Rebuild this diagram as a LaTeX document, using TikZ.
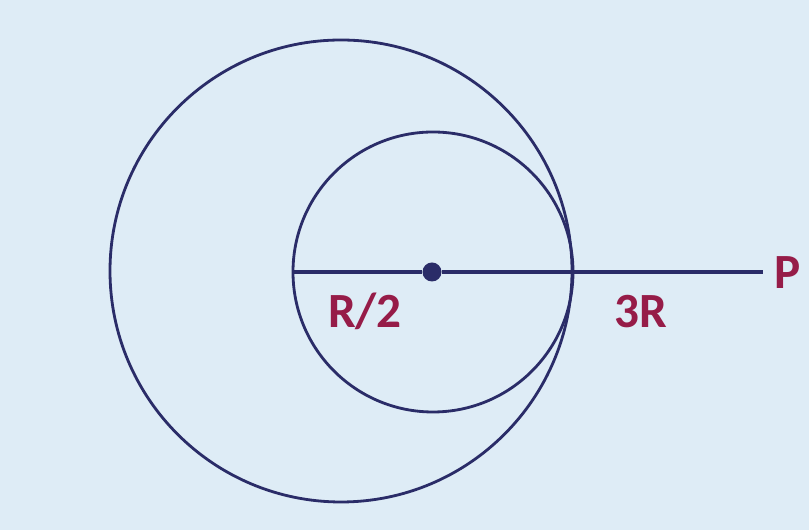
\documentclass[tikz,border=0pt]{standalone}
\usepackage{fontspec}
\setmainfont{Carlito}
\usepackage{tikz}
\usetikzlibrary{arrows.meta,positioning,calc}
\definecolor{navy}{RGB}{42,44,104}
\definecolor{plum}{RGB}{150,28,72}
\definecolor{paper}{RGB}{222,236,246}

\begin{document}
\begin{tikzpicture}[x=0.02cm, y=0.02cm, >=Latex]
  \fill[paper] (0,0) rectangle (809,530);
  \useasboundingbox (0,0) rectangle (809,530);

  % outer and inner circles
  \draw[navy, line width=1.6pt] (341,259) circle (231);
  \draw[navy, line width=1.6pt] (433,258) circle (140);

  % centre and line to P
  \coordinate (left) at (293,258);
  \coordinate (tip) at (763,258);
  \node[circle, fill=navy, inner sep=0pt, minimum size=0.38cm] (ctr) at (432,258) {};
  \node[plum, font=\fontsize{28}{30}\selectfont\bfseries] (P) at (788,257) {P};
  \draw[navy, line width=2pt] (left) -- (ctr) -- (tip);

  \node[plum, font=\fontsize{28}{30}\selectfont\bfseries] (half) at (365,219) {R/2};
  \node[plum, font=\fontsize{28}{30}\selectfont\bfseries] (three) at (641,218) {3R};
\end{tikzpicture}
\end{document}
